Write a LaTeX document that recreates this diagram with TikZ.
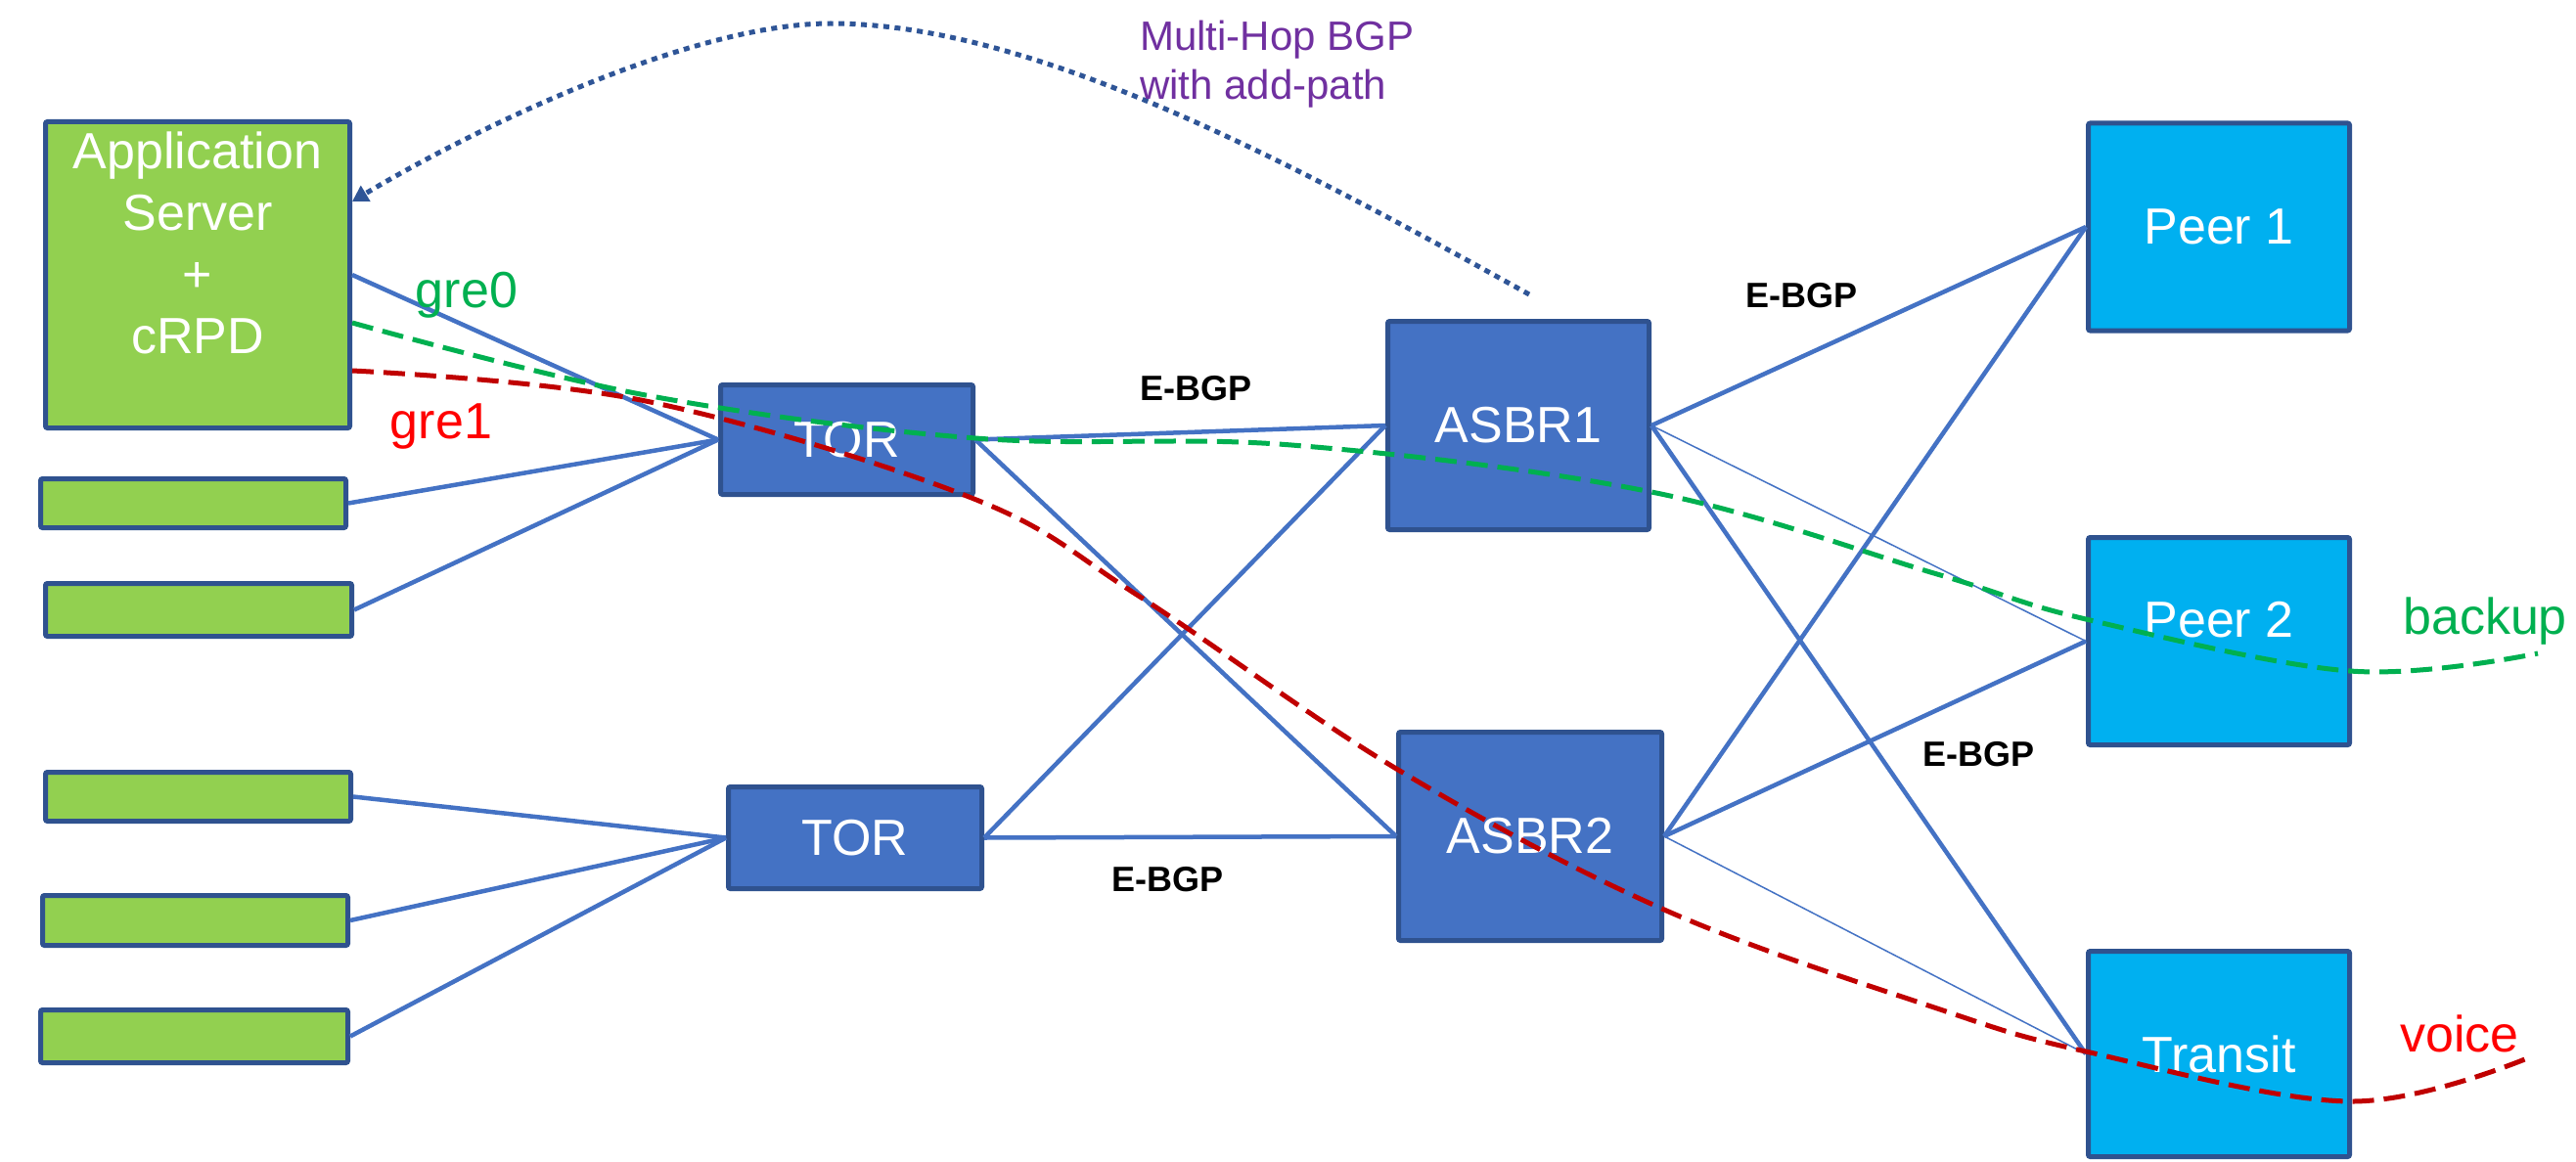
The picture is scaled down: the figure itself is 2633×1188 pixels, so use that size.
\documentclass[tikz,border=0pt]{standalone}
\usepackage{fontspec}
\setmainfont{Liberation Sans}
\usetikzlibrary{arrows.meta,calc}

\definecolor{greenfill}{HTML}{92D050}
\definecolor{routerblue}{HTML}{4472C4}
\definecolor{peercyan}{HTML}{00B0F0}
\definecolor{edgeblue}{HTML}{2F528F}
\definecolor{linkblue}{HTML}{4472C4}
\definecolor{greenpath}{HTML}{00B050}
\definecolor{redpath}{HTML}{C00000}
\definecolor{redtext}{HTML}{FF0000}
\definecolor{purpletext}{HTML}{7030A0}
\definecolor{dotblue}{HTML}{2F5597}

\begin{document}
\begin{tikzpicture}[x=1pt,y=-1pt,
  box/.style={rectangle, draw=edgeblue, line width=5pt, rounded corners=2pt,
              inner sep=0pt, text=white, font=\fontsize{52}{63}\selectfont},
  server/.style={box, fill=greenfill},
  router/.style={box, fill=routerblue},
  peer/.style={box, fill=peercyan, minimum width=267pt, minimum height=212pt},
  link/.style={draw=linkblue, line width=4.5pt},
  thinlink/.style={draw=linkblue, line width=1.5pt},
  ebgp/.style={anchor=base, inner sep=0pt, font=\fontsize{36}{40}\selectfont\bfseries},
  tag/.style={anchor=base, inner sep=0pt, font=\fontsize{52}{60}\selectfont},
  tunnel/.style={line width=5pt, dash pattern=on 22pt off 10pt},
]
% canvas
\fill[white] (0,0) rectangle (2633,1188);
\useasboundingbox (0,0) rectangle (2633,1188);

% servers
\node[server, minimum width=311pt, minimum height=313pt, align=center, text depth=65pt]
  (app) at (202,281) {Application\\Server\\+\\cRPD};
\node[server, minimum width=312pt, minimum height=50pt] (s1) at (197.5,514.5) {};
\node[server, minimum width=313pt, minimum height=54pt] (s2) at (203,623.5) {};
\node[server, minimum width=312pt, minimum height=50pt] (s3) at (202.5,814.5) {};
\node[server, minimum width=312pt, minimum height=51pt] (s4) at (199.5,941) {};
\node[server, minimum width=314pt, minimum height=54pt] (s5) at (198.5,1059.5) {};

% top-of-rack switches
\node[router, minimum width=258pt, minimum height=112pt] (tor1) at (865.5,449.5) {TOR};
\node[router, minimum width=259pt, minimum height=104pt] (tor2) at (874,856.5) {TOR};

% border routers
\node[router, minimum width=267pt, minimum height=213pt] (asbr1) at (1552,435) {ASBR1};
\node[router, minimum width=269pt, minimum height=213pt] (asbr2) at (1564,855) {ASBR2};

% external peers
\node[peer] (peer1) at (2268,232) {Peer 1};
\node[peer, text depth=44pt] (peer2) at (2268,655.5) {Peer 2};
\node[peer, minimum height=210pt] (transit) at (2268,1077.5) {Transit};

% server uplinks
\draw[link] (app.east) -- (tor1.west);
\draw[link] (s1.east) -- (tor1.west);
\draw[link] (s2.east) -- (tor1.west);
\draw[link] (s3.east) -- (tor2.west);
\draw[link] (s4.east) -- (tor2.west);
\draw[link] (s5.east) -- (tor2.west);

% fabric
\draw[link] (tor1.east) -- (asbr1.west);
\draw[link] (tor1.east) -- (asbr2.west);
\draw[link] (tor2.east) -- (asbr1.west);
\draw[link] (tor2.east) -- (asbr2.west);

% peering
\draw[link] (asbr1.east) -- (peer1.west);
\draw[thinlink] (asbr1.east) -- (peer2.west);
\draw[link] (asbr1.east) -- (transit.west);
\draw[link] (asbr2.east) -- (peer1.west);
\draw[link] (asbr2.east) -- (peer2.west);
\draw[thinlink] (asbr2.east) -- (transit.west);

% E-BGP session labels
\node[ebgp] (ebgp1) at (1222,409) {E-BGP};
\node[ebgp] (ebgp2) at (1841,314) {E-BGP};
\node[ebgp] (ebgp3) at (1193,911) {E-BGP};
\node[ebgp] (ebgp4) at (2022,783) {E-BGP};

% GRE tunnels steered to the exits
\coordinate (g0) at ($(app.east)+(0,49)$);
\coordinate (r0) at ($(app.east)+(0,98)$);
\draw[tunnel, greenpath] plot[smooth, tension=0.6] coordinates
  {(g0) (660,404) (997,448) (1320,455) (1688,503) (1980,587) (2132,633) (2402,686) (2594,668)};
\draw[tunnel, redpath] plot[smooth, tension=0.6] coordinates
  {(r0) (660,410) (993,509) (1165,610) (1429,787) (1701,930) (1980,1031) (2132,1075) (2402,1126) (2588,1080)};

\node[tag, text=greenpath] (gre0) at (477,314) {gre0};
\node[tag, text=redtext] (gre1) at (451,448) {gre1};
\node[tag, text=greenpath] (backup) at (2540,648) {backup};
\node[tag, text=redtext] (voice) at (2514,1075) {voice};

% multi-hop BGP session back to the route server
\coordinate (mhstart) at ($(asbr1.north)+(11,-25)$);
\coordinate (apptip) at ($(app.east)+(0,-75)$);
\draw[dotblue, line width=5pt, dash pattern=on 6pt off 5.5pt,
      -{Triangle[length=16pt,width=18pt]}]
  (mhstart) .. controls (1300,155) and (1050,24) .. (849,24)
            .. controls (700,24) and (470,140) .. (apptip);
\node[anchor=north west, inner sep=0pt, align=left, text=purpletext,
      font=\fontsize{42}{50}\selectfont] (mhlabel) at (1165,21)
  {Multi-Hop BGP\\with add-path};
\end{tikzpicture}
\end{document}
